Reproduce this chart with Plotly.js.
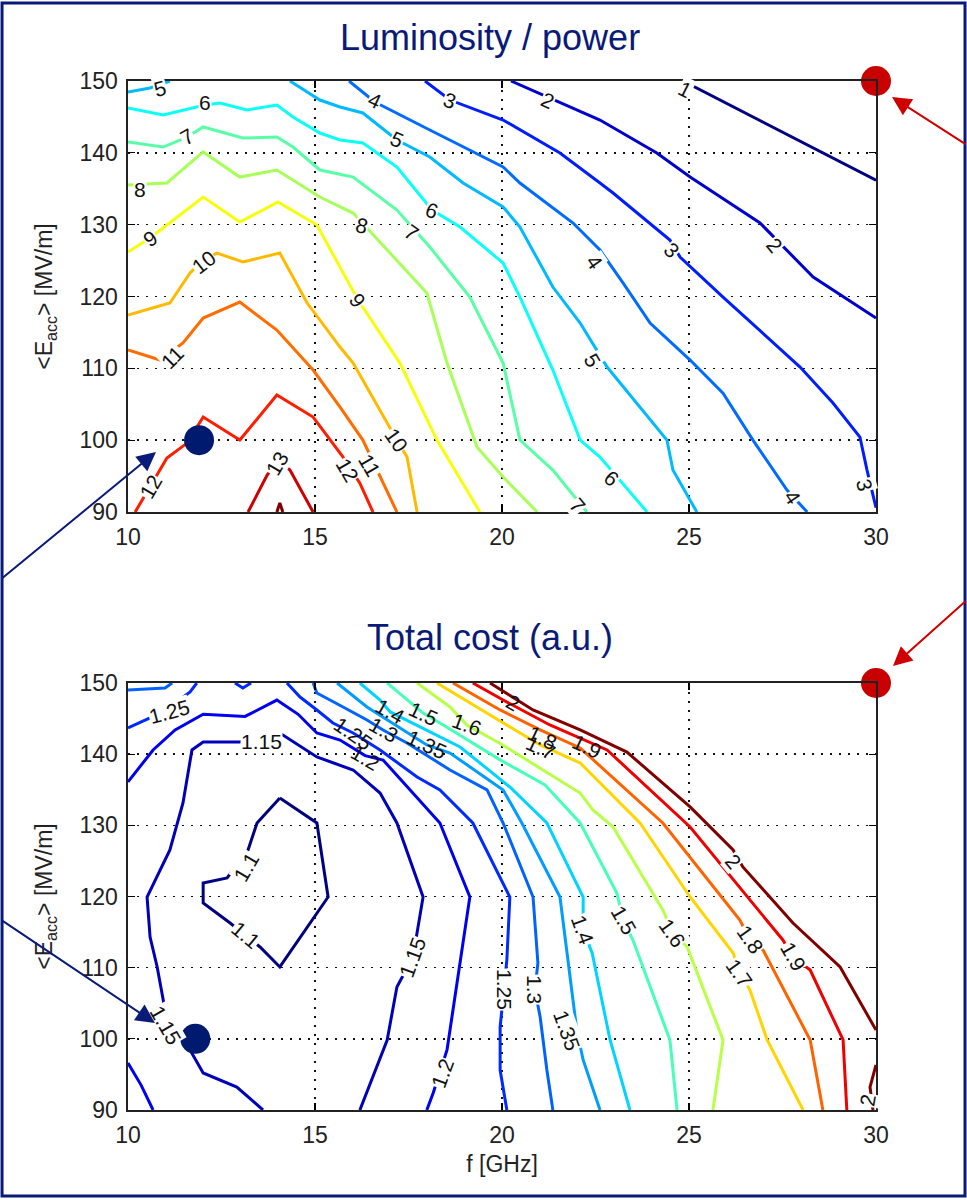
<!DOCTYPE html>
<html>
<head>
<meta charset="utf-8">
<script src="https://cdn.plot.ly/plotly-3.0.1.min.js"></script>
<style>
  html, body { margin: 0; padding: 0; background: #fff; }
  #chart { width: 967px; height: 1200px; }
</style>
</head>
<body>
<div id="chart"></div>
<script>
// ---------- axes ----------
const fTicks = [10, 15, 20, 25, 30];
const eTicks = [90, 100, 110, 120, 130, 140, 150];

// ---------- luminosity / power contour paths: [f (GHz), <Eacc> (MV/m)], null = break ----------
const lumLevels = [1, 2, 3, 4, 5, 6, 7, 8, 9, 10, 11, 12, 13, 14];
const lum01 = [[24.84,150],[30,136.2]];
const lum02 = [[20.24,150],[22.62,144.57],[24.14,139.98],[25.03,136.63],[26.90,130.23],[28.32,122.71],[30,117.0]];
const lum03 = [[17.94,150],[18.61,147.35],[20.03,144.57],[21.55,139.98],[22.62,135.80],[22.97,134.41],[24.49,127.86],[24.76,125.50],[25.91,119.93],[26.98,114.92],[27.97,110.18],[28.85,105.17],[29.57,100.44],[29.76,95.84],[29.97,91.25],[30,90.6]];
const lum04 = [[15.91,150],[16.60,147.08],[18.07,143.18],[20.03,138.03],[20.48,135.80],[21.90,130.23],[22.62,126.47],[23.24,121.88],[23.96,116.31],[25.03,111.16],[25.91,106.56],[26.71,100.02],[27.62,93.06],[28.16,90]];
const lum05 = [[10,148.47],[10.59,149.03],[11.12,150],null,[14.33,150],[15.13,147.35],[15.67,146.38],[16.28,145.55],[17.19,141.79],[18.07,139.42],[18.96,135.80],[20.03,132.46],[20.48,129.67],[21.36,121.32],[22.09,116.31],[22.81,110.18],[24.41,100.02],[24.57,95.84],[25.21,90]];
const lum06 = [[10,146.24],[10.94,145.27],[12.06,146.66],[12.46,146.94],[13.18,145.96],[13.98,146.66],[14.41,144.99],[15.13,142.76],[15.67,141.79],[16.28,141.37],[17.19,138.03],[18.13,132.04],[18.88,129.67],[20.03,124.66],[20.48,119.93],[21.36,109.77],[22.09,100.02],[22.62,97.65],[23.88,90]];
const lum07 = [[10,141.51],[10.94,140.81],[11.58,142.20],[12.01,143.60],[13.07,142.06],[13.98,142.20],[14.41,140.81],[15.13,137.61],[16.02,136.63],[17.19,132.04],[18.07,126.89],[19.14,119.93],[20.03,110.74],[20.48,100.02],[21.36,95.84],[22.27,90]];
const lum08 = [[10,135.52],[11.04,135.80],[12.01,140.12],[12.99,136.63],[13.98,137.61],[15.13,133.85],[16.02,131.62],[17.19,125.08],[17.99,120.49],[18.53,110.74],[19.33,99.05],[20.03,94.87],[20.94,90]];
const lum09 = [[10,126.2],[10.59,128.14],[11.04,129.95],[12.01,133.85],[12.99,130.37],[14.01,133.15],[15.05,129.95],[15.67,124.11],[16.15,119.51],[17.27,110.74],[18.26,100.02],[19.41,90]];
const lum10 = [[10,117.42],[11.12,119.09],[11.66,123.27],[12.01,125.08],[12.38,126.05],[13.07,124.80],[14.06,126.05],[14.79,119.09],[15.67,112.97],[16.02,110.74],[16.93,102.39],[17.46,97.65],[17.73,90]];
const lum11 = [[10,112.55],[10.86,111.16],[11.47,113.53],[12.01,117.01],[12.99,119.23],[13.98,115.33],[14.95,109.77],[15.67,104.61],[16.28,100.02],[16.74,94.87],[17.19,90]];
const lum12 = [[10.19,90],[10.59,93.48],[11.04,97.51],[11.58,99.60],[12.01,103.22],[12.99,100.02],[13.98,106.29],[14.95,103.22],[15.75,97.65],[16.20,94.03],[16.55,90]];
const lum13 = [[13.21,90],[13.72,95.14],[14.01,97.2],[14.33,95.84],[14.95,90]];
const lum14 = [[13.98,90],[14.06,91.25],[14.14,90]];
const lumPaths = [lum01, lum02, lum03, lum04, lum05, lum06, lum07, lum08, lum09, lum10, lum11, lum12, lum13, lum14];

// ---------- total cost contour paths ----------
const costLevels = [1.1, 1.15, 1.2, 1.25, 1.3, 1.35, 1.4, 1.5, 1.6, 1.7, 1.8, 1.9, 2];
const cost110 = [[14.06,133.84],[15.05,130.33],[15.35,119.93],[14.06,110.10],[13.53,112.91],[12.73,116.28],[12.01,119.09],[12.01,121.90],[12.65,122.60],[13.21,126.54],[13.45,130.33],[14.06,133.84]];
const cost115 = [[13.61,90],[12.91,93.23],[12.01,95.20],[11.66,98.43],[11.04,102.65],[10.78,110.10],[10.59,114.31],[10.51,119.93],[11.12,126.54],[11.47,133.14],[11.71,140.59],[12.01,141.71],[12.99,141.71],[14.06,142.97],[15.05,139.60],[15.67,138.48],[16.02,137.78],[16.74,134.54],[17.19,130.33],[17.89,119.93],[17.62,111.50],[17.19,107.29],[16.93,99.84],[16.20,90]];
const cost120 = [[10,136.1],[10.67,140.59],[11.26,143.4],[12.01,145.6],[13.13,145.3],[13.98,147.6],[14.55,145.6],[15.05,142.97],[15.67,141.99],[16.34,139.8],[16.82,139.18],[17.62,134.54],[18.34,130.33],[19.14,119.93],[18.88,110.66],[18.53,98.43],[18.16,92.39],[17.99,90],null,[10,96.6],[10.35,93.5],[10.67,90]];
const cost125 = [[10,143.68],[10.94,145.93],[11.66,148.74],[11.84,150],null,[12.86,150],[13.07,149.3],[13.29,150],null,[14.25,150],[14.60,148.03],[15.05,146.21],[15.48,144.38],[16.02,142.97],[16.74,140.59],[17.73,136.79],[18.34,134.97],[19.22,130.33],[20.21,119.93],[20.13,111.08],[19.95,101.67],[19.95,95.62],[20.13,90]];
const cost130 = [[10,149.02],[10.99,149.30],[11.18,150],null,[14.95,150],[15.05,148.59],[15.75,146.63],[16.39,144.80],[16.82,143.40],[17.46,141.57],[18.61,137.78],[19.60,134.97],[20.03,130.33],[20.83,119.93],[20.96,110.66],[20.88,106.86],[21.02,103.07],[21.20,95.62],[21.36,90]];
const cost135 = [[15.59,150],[16.39,146.63],[17.99,141.29],[18.61,140.16],[20.03,134.97],[20.53,130.33],[21.55,119.93],[21.90,105.88],[22.0,101.2],[22.17,97.03],[22.62,90]];
const cost140 = [[16.20,150],[16.74,147.61],[17.01,145.93],[18.88,141.01],[20.21,135.39],[21.20,130.33],[22.17,119.93],[22.17,115.29],[22.41,112.06],[22.89,99.84],[23.42,90]];
const cost150 = [[16.93,150],[17.89,145.78],[18.34,144.38],[19.95,139.2],[21.15,135.67],[22.09,130.33],[23.07,120.49],[23.24,116.70],[23.50,113.89],[24.49,99.84],[24.68,90]];
const cost160 = [[17.73,150],[18.61,146.63],[19.06,144.10],[19.95,141.5],[22.09,134.54],[22.43,132.16],[22.97,129.77],[24.30,118.10],[24.57,114.87],[24.95,112.91],[25.91,99.84],[25.64,90]];
const cost170 = [[18.26,150],[19.68,145.50],[21.02,141.29],[22.09,138.76],[23.69,130.33],[25.03,119.93],[26.18,112.06],[26.36,109.25],[26.63,106.86],[27.09,99.84],[28.05,90]];
const cost180 = [[18.69,150],[19.95,146.21],[21.02,143.40],[22.09,140.87],[24.30,130.33],[26.36,116.70],[26.63,113.89],[26.98,112.48],[28.24,99.84],[28.58,90]];
const cost190 = [[19.22,150],[20.03,147.61],[21.28,144.10],[22.81,140.59],[25.03,129.77],[27.51,113.89],[27.78,111.50],[28.24,109.67],[29.12,99.84],[29.22,90]];
const cost200 = [[19.68,150],[20.83,146.21],[22.09,143.40],[23.34,140.30],[25.03,132.58],[26.18,126.54],[26.44,124.15],[27.78,116.28],[29.04,110.10],[30,101.24],null,[30,96.33],[29.84,93.23],[29.92,90]];
const costPaths = [cost110, cost115, cost120, cost125, cost130, cost135, cost140, cost150, cost160, cost170, cost180, cost190, cost200];

// ---------- marked design points ----------
const chosenF = [11.9, 11.8];      // navy points (top, bottom)
const chosenE = [100, 100];
const cornerF = [30, 30];          // red points (top, bottom)
const cornerE = [150, 150];

// ---------- inline contour labels: [level, f, E, angle] ----------
const lumLabelSpots = [
  [5,10.86,149.0,-15],[6,12.06,146.94,0],[7,11.58,142.3,-30],[8,10.32,134.83,0],[9,10.59,128.14,-35],
  [10,12.01,124.8,-38],[11,11.18,111.58,-45],[12,10.59,93.48,-60],[13,13.98,96.82,-60],
  [4,16.60,147.35,25],[3,18.61,147.35,20],[2,21.23,147.35,25],[1,24.89,148.75,27],
  [5,17.19,141.79,25],[6,18.13,132.04,20],[7,17.59,128.98,35],[8,16.26,129.95,15],[9,16.15,119.51,55],
  [10,17.19,100.02,55],[11,16.47,96.54,60],[12,15.88,95.84,60],
  [4,22.49,124.80,55],[3,24.55,126.47,45],[2,27.30,127.17,50],[5,22.43,111.16,60],
  [6,22.94,94.73,40],[7,22.03,90.97,50],[4,27.78,92.09,56],[3,29.71,93.76,75]
];
const costLabelSpots = [
  [1.25,11.12,145.93,-15],[1.15,13.58,141.71,0],[1.1,13.18,124.15,-60],[1.1,13.13,114.59,40],[1.15,10.99,101.95,60],
  [1.25,16.02,142.97,35],[1.3,16.82,143.40,30],[1.2,16.34,139.60,30],[1.4,17.01,145.93,30],[1.5,17.89,145.78,25],
  [1.6,19.06,144.10,20],[1.35,17.99,141.29,25],[2,20.29,147.19,30],[1.8,21.07,142.41,25],[1.7,21.02,140.87,25],
  [1.9,22.27,141.01,25],[1.15,17.62,111.50,-70],[1.2,18.42,95.20,-70],[1.25,20.08,106.86,90],[1.3,20.88,106.86,90],
  [1.35,21.74,101.24,70],[1.4,22.17,115.29,70],[1.5,23.24,116.70,60],[1.6,24.57,114.87,55],[1.7,26.36,109.25,55],
  [1.8,26.63,113.89,55],[1.9,27.78,111.50,60],[2,26.18,124.85,50],[2,29.79,91.41,-80]
];

// ---------- helpers ----------
function jet(t) {
  const c = v => Math.round(255 * Math.max(0, Math.min(1, v)));
  return `rgb(${c(1.5 - Math.abs(4 * t - 3))},${c(1.5 - Math.abs(4 * t - 2))},${c(1.5 - Math.abs(4 * t - 1))})`;
}
function splitPath(path) {
  return {
    x: path.map(p => (p ? p[0] : null)),
    y: path.map(p => (p ? p[1] : null))
  };
}

const NAVY = '#0a1a78';
const FONT = 'Liberation Sans, Arial, Helvetica, sans-serif';
const traces = [];

lumPaths.forEach((path, i) => {
  const lvl = lumLevels[i];
  const xy = splitPath(path);
  traces.push({
    type: 'scatter', mode: 'lines', x: xy.x, y: xy.y, xaxis: 'x', yaxis: 'y',
    line: { color: jet((lvl - 1) / 13), width: 3 }, hoverinfo: 'skip', showlegend: false
  });
});
costPaths.forEach((path, i) => {
  const lvl = costLevels[i];
  const xy = splitPath(path);
  traces.push({
    type: 'scatter', mode: 'lines', x: xy.x, y: xy.y, xaxis: 'x2', yaxis: 'y2',
    line: { color: jet((lvl - 1.1) / 0.9), width: 3 }, hoverinfo: 'skip', showlegend: false
  });
});

// design points
traces.push({ type: 'scatter', mode: 'markers', x: [chosenF[0]], y: [chosenE[0]], xaxis: 'x', yaxis: 'y',
  marker: { color: '#001a70', size: 30 }, cliponaxis: false, showlegend: false, hoverinfo: 'skip' });
traces.push({ type: 'scatter', mode: 'markers', x: [chosenF[1]], y: [chosenE[1]], xaxis: 'x2', yaxis: 'y2',
  marker: { color: '#001a70', size: 30 }, cliponaxis: false, showlegend: false, hoverinfo: 'skip' });
traces.push({ type: 'scatter', mode: 'markers', x: [cornerF[0]], y: [cornerE[0]], xaxis: 'x', yaxis: 'y',
  marker: { color: '#c80000', size: 30 }, cliponaxis: false, showlegend: false, hoverinfo: 'skip' });
traces.push({ type: 'scatter', mode: 'markers', x: [cornerF[1]], y: [cornerE[1]], xaxis: 'x2', yaxis: 'y2',
  marker: { color: '#c80000', size: 30 }, cliponaxis: false, showlegend: false, hoverinfo: 'skip' });

// ---------- annotations ----------
const annotations = [];
// labels in the crowded upper band of the cost map overlap each other, so they get no backing box
function crowded(spot, xref) {
  return xref === 'x2' && spot[2] > 138 && spot[1] > 15.5 && spot[1] < 23;
}
function contourLabel(spot, xref, yref) {
  return {
    xref, yref, x: spot[1], y: spot[2], text: String(spot[0]), textangle: spot[3],
    showarrow: false, font: { family: FONT, size: 21, color: '#111' },
    bgcolor: crowded(spot, xref) ? 'rgba(0,0,0,0)' : '#ffffff', borderpad: 0
  };
}
lumLabelSpots.forEach(s => annotations.push(contourLabel(s, 'x', 'y')));
costLabelSpots.forEach(s => annotations.push(contourLabel(s, 'x2', 'y2')));

annotations.push({ xref: 'paper', yref: 'paper', x: 0.484, y: 1.0418, yanchor: 'middle', xanchor: 'center',
  text: 'Luminosity / power', showarrow: false, font: { family: FONT, size: 36, color: NAVY } });
annotations.push({ xref: 'paper', yref: 'paper', x: 0.484, y: 0.4587, yanchor: 'middle', xanchor: 'center',
  text: 'Total cost (a.u.)', showarrow: false, font: { family: FONT, size: 36, color: NAVY } });

// pointer arrows
function pointer(x, y, ax, ay, color) {
  return { xref: 'paper', yref: 'paper', x, y, ax, ay, text: '', showarrow: true,
    arrowhead: 2, arrowsize: 1.9, arrowwidth: 2, arrowcolor: color, standoff: 0, startstandoff: 0 };
}
annotations.push(pointer(0.0374, 0.6395, -160, 128, NAVY));
annotations.push(pointer(0.0361, 0.0845, -160, -104, NAVY));
annotations.push(pointer(1.0214, 0.9844, 80, 48, '#d00000'));
annotations.push(pointer(1.0227, 0.4315, 80, -66, '#d00000'));

// ---------- axes ----------
const tickFont = { family: FONT, size: 23, color: '#222' };
function xAxis(anchor, withTitle) {
  const a = {
    anchor, domain: [0, 1], range: [10, 30], tickvals: fTicks, ticktext: fTicks.map(String),
    ticks: 'inside', ticklen: 7, tickwidth: 1.2, tickcolor: '#000',
    showline: true, linecolor: '#222', linewidth: 1.6, mirror: 'ticks',
    showgrid: true, gridcolor: '#111', griddash: '2px,7px', gridwidth: 1.6,
    zeroline: false, tickfont: tickFont, ticklabelstandoff: 4, fixedrange: true
  };
  if (withTitle) a.title = { text: 'f [GHz]', font: { family: FONT, size: 23, color: '#222' }, standoff: 8 };
  return a;
}
function yAxis(anchor, domain) {
  return {
    anchor, domain, range: [90, 150], tickvals: eTicks, ticktext: eTicks.map(String),
    ticks: 'inside', ticklen: 7, tickwidth: 1.2, tickcolor: '#000',
    showline: true, linecolor: '#222', linewidth: 1.6, mirror: 'ticks',
    showgrid: true, gridcolor: '#111', griddash: '2px,7px', gridwidth: 1.6,
    zeroline: false, tickfont: tickFont, ticklabelstandoff: 4, fixedrange: true,
    title: { text: '&lt;E<sub>acc</sub>&gt; [MV/m]', font: { family: FONT, size: 23, color: '#222' }, standoff: 20 }
  };
}

const layout = {
  width: 967, height: 1200,
  margin: { l: 128, r: 91, t: 81, b: 90 },
  paper_bgcolor: '#fff', plot_bgcolor: '#fff',
  showlegend: false,
  xaxis: xAxis('y', false),
  yaxis: yAxis('x', [0.5811, 1]),
  xaxis2: xAxis('y2', true),
  yaxis2: yAxis('x2', [0, 0.41497]),
  annotations,
  shapes: [{
    type: 'rect', xref: 'paper', yref: 'paper',
    x0: -0.1684, x1: 1.119, y0: -0.0836, y1: 1.0758,
    line: { color: NAVY, width: 3 }, fillcolor: 'rgba(0,0,0,0)', layer: 'above'
  }]
};

Plotly.newPlot('chart', traces, layout, { displayModeBar: false, staticPlot: true });
</script>
</body>
</html>
